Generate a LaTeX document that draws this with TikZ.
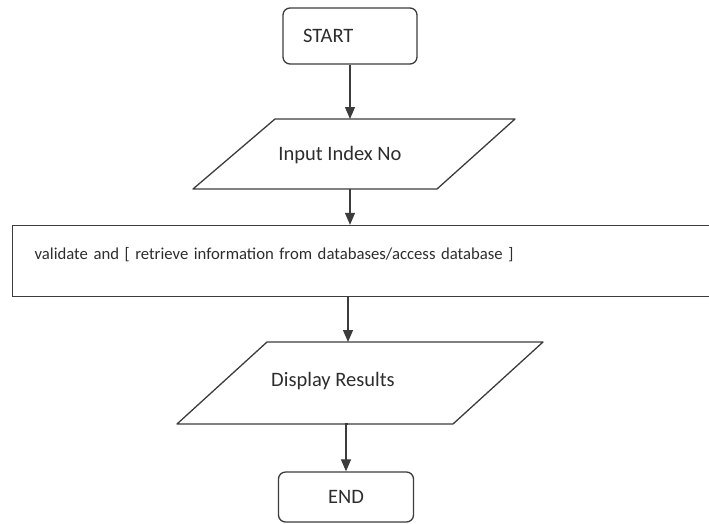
\documentclass[tikz,border=0pt]{standalone}
\usepackage{fontspec}
\setmainfont{Carlito}
\usetikzlibrary{arrows.meta,positioning}

\definecolor{scan-ink}{RGB}{60, 60, 60}
\definecolor{scan-text}{RGB}{45, 45, 45}

\tikzset{
    terminal/.style={draw=scan-ink, line width=1.3pt, rounded corners=7pt, text=scan-text,
        minimum width=134pt, inner sep=0pt, font=\fontsize{20.5}{24}\selectfont},
    iobox/.style={draw=scan-ink, line width=1.3pt, line join=round},
    iotext/.style={text=scan-text, font=\fontsize{20.5}{24}\selectfont},
    flowline/.style={draw=scan-ink, line width=1.2pt, -{Triangle[length=12pt, width=10pt]}}
}

\begin{document}
\begin{tikzpicture}[x=1pt, y=-1pt]
                \useasboundingbox (0, 0) rectangle (709, 523);
                \clip (0, 0) rectangle (709, 523);
                \node[terminal, minimum height=56pt, text width=94pt, inner xsep=20pt, align=left] (start) at (350, 36) {START};
                \draw[iobox] (193, 189) -- (275, 119) -- (515, 119) -- (437, 189) -- cycle;
                \node[iotext] (input) at (340, 155) {Input Index No};
                \coordinate (input-top) at (350, 119);
                \coordinate (input-bot) at (350, 189);
                \node[draw=scan-ink, line width=1.3pt, anchor=west, text=scan-text, font=\fontsize{16.7}{20}\selectfont,
                    minimum height=71pt, text width=676pt, text depth=15pt, inner xsep=22pt, align=left] (check) at (12, 261)
                    {validate and [ retrieve information from databases/access database ]};
                \draw[iobox] (177, 424) -- (267, 342) -- (543, 342) -- (453, 424) -- cycle;
                \node[iotext] (display) at (333, 381) {Display Results};
                \coordinate (display-top) at (348, 342);
                \coordinate (display-bot) at (348, 424);
                \node[terminal, minimum height=50pt, minimum width=135pt] (end) at (346, 497) {END};
                \draw[flowline] (start.south) -- (input-top);
                \draw[flowline] (input-bot) -- (input-bot |- check.north);
                \draw[flowline] (display-top |- check.south) -- (display-top);
                \draw[flowline] (display-bot) -- (display-bot -| end.north) -- (end.north);
            \end{tikzpicture}
\end{document}
